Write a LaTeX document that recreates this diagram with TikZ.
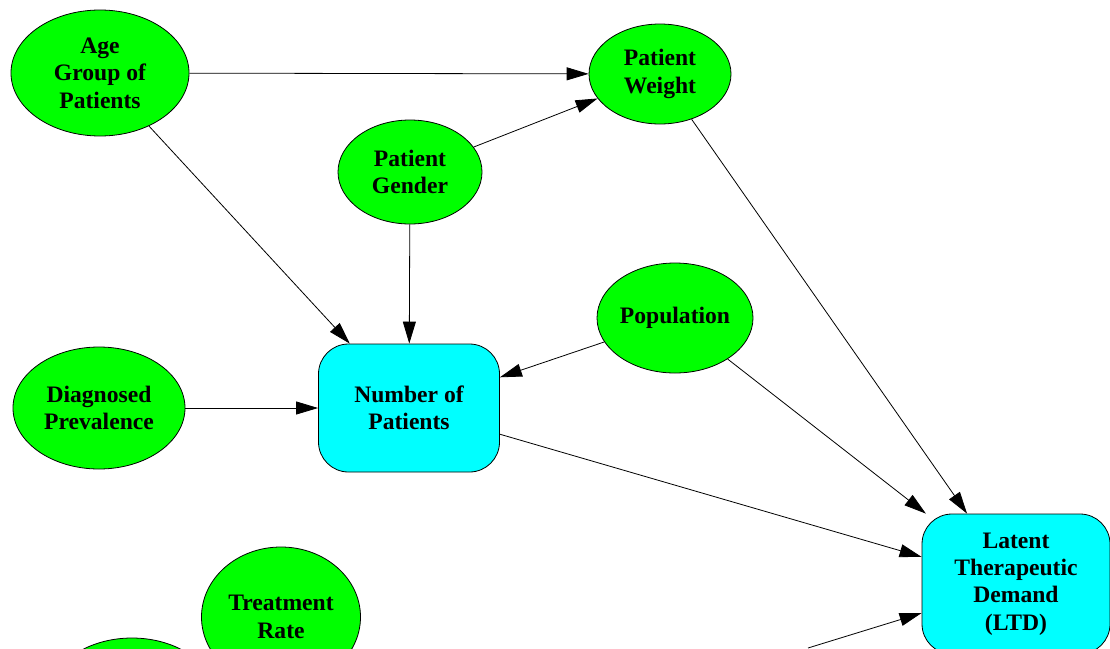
\documentclass[tikz,border=0pt]{standalone}
\usepackage{fontspec}
\setmainfont{Liberation Serif}
\usetikzlibrary{arrows.meta, shapes.geometric}
\definecolor{nodegreen}{RGB}{0,255,0}
\definecolor{calccyan}{RGB}{0,255,255}
\tikzstyle{influence}=[x=1pt, y=-1pt, line width=0.8pt, >={Triangle[length=22pt,width=13pt]},
  font=\fontsize{23.6}{27.4}\selectfont\bfseries]
\tikzstyle{chance}=[draw, ellipse, fill=nodegreen, inner sep=0pt, align=center]
\tikzstyle{calc}=[draw, rectangle, rounded corners=30pt, fill=calccyan, inner sep=0pt, align=center]

\begin{document}
\begin{tikzpicture}[influence]
  \useasboundingbox (0,0) rectangle (1110,648);
  \node[chance,minimum width=178pt,minimum height=126pt] (age) at (100,73) {Age\\Group of\\Patients};
  \node[chance,minimum width=142pt,minimum height=100pt] (weight) at (660,74) {Patient\\Weight};
  \node[chance,minimum width=144pt,minimum height=104pt] (gender) at (410,172) {Patient\\Gender};
  \node[chance,minimum width=156pt,minimum height=110pt] (pop) at (675,318) {Population};
  \node[chance,minimum width=172pt,minimum height=122pt] (prev) at (99,408) {Diagnosed\\Prevalence};
  \node[calc,minimum width=181pt,minimum height=128pt] (numpat) at (409,408) {Number of\\Patients};
  \node[calc,minimum width=188pt,minimum height=140pt] (ltd) at (1016,584) {Latent\\Therapeutic\\Demand\\(LTD)};
  \node[chance,minimum width=159pt,minimum height=140pt] (treat) at (281,617) {Treatment\\Rate};
  \node[chance,minimum width=170pt,minimum height=124pt] (lower) at (132,700) {};
  \coordinate (ltdin) at (808,648);
  \path[->] (age) edge (weight);
  \path[->] (age) edge (numpat);
  \path[->] (gender) edge (weight);
  \path[->] (gender) edge (numpat);
  \path[->] (pop) edge (numpat);
  \path[->] (prev) edge (numpat);
  \path[->] (weight) edge (ltd);
  \path[->] (pop) edge (ltd);
  \path[->] (numpat) edge (ltd);
  \path[->] (ltdin) edge (ltd);
\end{tikzpicture}
\end{document}
